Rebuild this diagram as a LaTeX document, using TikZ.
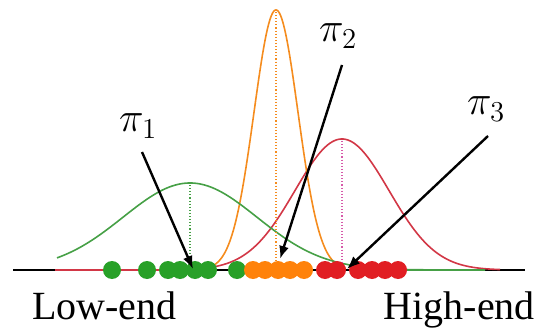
\documentclass[tikz,border=0pt]{standalone}
\usepackage{graphicx}
\usepackage{fontspec}
\setmainfont{Liberation Serif}
\usetikzlibrary{arrows.meta}
\definecolor{cgreen}{RGB}{70,160,70}
\definecolor{corange}{RGB}{245,140,30}
\definecolor{cred}{RGB}{210,55,70}
\definecolor{dgreen}{RGB}{40,160,40}
\definecolor{dorange}{RGB}{255,130,10}
\definecolor{dred}{RGB}{225,30,35}
\definecolor{cpink}{RGB}{215,90,170}
\newcommand{\biglab}[1]{\scalebox{2}{\fontsize{20}{22}\selectfont$#1$}}
\tikzset{
  curve/.style={line width=1.6pt},
  mean/.style={dotted, line width=1.1pt},
  ptr/.style={line width=2.4pt, -{Latex[length=13pt,width=10pt]}},
  lab/.style={inner sep=0pt, anchor=base west},
  word/.style={inner sep=0pt, font=\fontsize{40}{42}\selectfont}
}
\begin{document}
\begin{tikzpicture}[x=1pt,y=-1pt]
\useasboundingbox (0,0) rectangle (540,331);
% axis
\draw[line width=2pt, black] (13,270) -- (525,270);
% curves
\draw[curve, cred, domain=55:500, samples=200] plot (\x, {270 - 131*exp(-0.5*((\x-342)/47)^2)});
\draw[curve, cred, line width=2.4pt] (55,270) -- (205,270);
\draw[curve, corange, domain=206:346, samples=200] plot (\x, {270 - 260*exp(-0.5*((\x-276)/22)^2)});
\draw[curve, cgreen, domain=57:485, samples=200] plot (\x, {270 - 87*exp(-0.5*((\x-190)/67)^2)});
\draw[curve, cgreen, line width=2.4pt] (400,270) -- (482,270);
% mean lines
\draw[mean, cgreen] (190,185) -- (190,262);
\draw[mean, corange] (276,12) -- (276,262);
\draw[mean, cpink] (342,141) -- (342,262);
% dots
\foreach \p in {112,147,168,180,195,208,237} \fill[dgreen] (\p,270) circle (9pt);
\foreach \p in {253,265,278,290,304} \fill[dorange] (\p,270) circle (9pt);
\foreach \p in {325,337,358,372,385,398} \fill[dred] (\p,270) circle (9pt);
% labels
\node[lab] (p1) at (119,132) {\biglab{\pi_1}};
\node[lab] (p2) at (319,42) {\biglab{\pi_2}};
\node[lab] (p3) at (467,115) {\biglab{\pi_3}};
\coordinate (s1) at (142,152);
\coordinate (e1) at (193,269);
\coordinate (s2) at (342,65);
\coordinate (e2) at (280,259);
\coordinate (s3) at (488,136);
\coordinate (e3) at (347,269);
\draw[ptr] (s1) -- (e1);
\draw[ptr] (s2) -- (e2);
\draw[ptr] (s3) -- (e3);
% end labels
\node[word, anchor=base west] (lo) at (32,319) {Low-end};
\node[word, anchor=base east] (hi) at (535,319) {High-end};
\end{tikzpicture}
\end{document}
